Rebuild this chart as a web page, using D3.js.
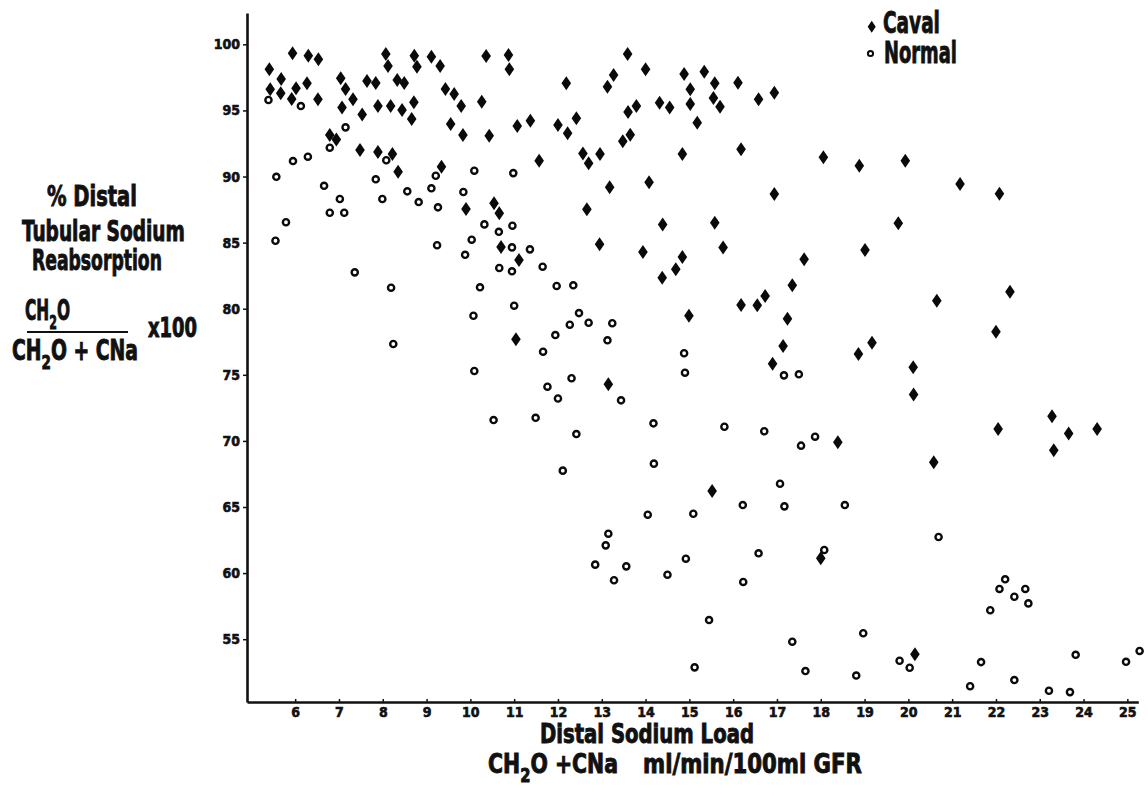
<!DOCTYPE html>
<html lang="en">
<head>
<meta charset="utf-8">
<title>Distal Tubular Sodium Reabsorption</title>
<script src="https://cdnjs.cloudflare.com/ajax/libs/d3/7.8.5/d3.min.js"></script>
<style>
  body { margin: 0; background: #fff; }
  svg text { font-family: "Liberation Sans Narrow", "DejaVu Sans Condensed", sans-serif; font-weight: bold; fill: #111; }
</style>
</head>
<body>
<script>
/* distal sodium load (ml/min/100ml GFR), % distal reabsorption */
var cavalPoints = [
  [5.41,98.11],[5.43,96.60],[5.68,97.38],[5.67,96.29],[5.94,99.32],[6.02,96.67],[5.92,95.86],[6.30,99.14],
  [6.27,97.05],[6.53,98.87],[6.52,95.84],[6.79,93.14],[6.94,92.81],[7.04,97.43],[7.15,96.62],[7.07,95.23],
  [7.32,95.84],[7.53,94.70],[7.48,92.00],[7.64,97.22],[7.84,97.07],[7.89,95.33],[8.07,99.27],[8.12,98.36],
  [8.18,95.33],[8.33,97.30],[8.49,97.07],[8.44,95.03],[7.89,91.85],[8.22,91.70],[8.35,90.36],[8.72,99.14],
  [8.78,98.31],[8.71,95.61],[8.66,94.35],[9.11,99.06],[9.31,98.36],[9.43,96.62],[9.63,96.24],[9.55,93.97],
  [9.79,95.33],[9.83,93.14],[9.34,90.74],[9.90,87.54],[10.26,95.66],[10.36,99.11],[10.43,93.09],[10.87,99.19],
  [10.89,98.11],[11.07,93.82],[11.37,94.22],[11.57,91.20],[10.54,87.97],[10.66,87.22],[10.70,84.67],[11.11,83.68],
  [11.04,77.69],[12.19,97.05],[12.00,93.90],[12.22,93.27],[12.42,94.40],[12.57,91.75],[12.70,91.00],[12.96,91.70],
  [13.18,89.18],[12.66,87.52],[12.95,84.87],[13.59,99.27],[13.27,97.68],[13.13,96.79],[14.00,98.11],[13.60,94.88],
  [13.79,95.33],[13.65,93.16],[13.48,92.66],[14.32,95.58],[14.55,95.23],[14.88,97.75],[15.02,96.60],[15.02,95.48],
  [15.34,97.93],[15.58,97.05],[15.55,95.94],[15.70,95.28],[15.18,94.07],[14.84,91.70],[16.11,97.10],[16.58,95.84],
  [16.94,96.34],[16.18,92.06],[14.08,89.56],[14.39,86.38],[15.58,86.51],[15.77,84.64],[13.94,84.29],[14.84,83.91],
  [14.69,82.98],[14.38,82.35],[16.94,88.68],[18.06,91.45],[18.88,90.82],[19.93,91.20],[19.77,86.46],[19.01,84.44],
  [17.62,83.74],[17.35,81.77],[16.18,80.28],[16.55,80.26],[16.73,80.96],[17.24,79.24],[17.14,77.18],[16.90,75.84],
  [14.99,79.47],[13.15,74.28],[15.52,66.21],[18.00,61.12],[18.39,69.89],[18.86,76.57],[19.17,77.43],[21.18,89.43],
  [22.08,88.70],[22.32,81.29],[22.00,78.26],[20.11,75.57],[20.12,73.52],[23.28,71.86],[22.05,70.90],[23.66,70.57],
  [24.31,70.90],[23.32,69.29],[20.58,68.38],[20.15,53.86],[20.65,80.61]
];
var normalPoints = [
  [5.39,95.79],[5.57,89.98],[5.55,85.14],[5.79,86.54],[5.95,91.17],[6.13,95.33],[6.29,91.50],[6.66,89.30],
  [6.79,92.18],[7.15,93.72],[7.02,88.30],[6.79,87.26],[7.12,87.26],[7.36,82.75],[7.84,89.79],[7.99,88.30],
  [8.08,91.23],[8.19,81.59],[8.24,77.33],[8.56,88.88],[8.82,88.07],[9.11,89.11],[9.21,90.06],[9.26,87.67],
  [9.24,84.80],[9.84,88.83],[9.88,84.08],[10.03,85.22],[10.09,90.44],[10.32,86.38],[10.22,81.62],[10.65,85.82],
  [10.66,83.08],[10.95,82.83],[10.96,86.28],[10.95,84.64],[10.98,90.26],[11.36,84.49],[11.65,83.18],[10.07,79.47],
  [10.09,75.29],[11.00,80.23],[11.94,78.01],[11.66,76.75],[11.76,74.10],[12.00,73.21],[11.49,71.75],[10.53,71.58],
  [11.97,81.72],[12.35,81.77],[12.48,79.67],[12.27,78.79],[12.70,78.94],[13.24,78.90],[13.13,77.61],[12.31,74.74],
  [13.44,73.07],[12.42,70.52],[14.18,71.33],[12.11,67.75],[14.19,68.28],[14.88,76.63],[14.90,75.16],[17.16,74.96],
  [17.50,75.04],[15.80,71.07],[16.71,70.73],[17.55,69.64],[17.87,70.32],[17.07,66.76],[16.22,65.15],[17.17,65.05],
  [18.55,65.15],[14.05,64.42],[15.09,64.49],[13.15,62.98],[13.09,62.10],[12.85,60.64],[13.56,60.51],[13.28,59.46],
  [14.50,59.88],[14.92,61.09],[16.58,61.50],[18.08,61.75],[16.23,59.33],[15.45,56.45],[17.35,54.81],[15.12,52.87],
  [17.65,52.59],[18.81,52.25],[20.69,62.73],[22.21,59.53],[22.08,58.80],[22.42,58.21],[22.67,58.80],[22.74,57.71],
  [21.87,57.19],[18.97,55.45],[19.80,53.37],[20.03,52.84],[21.66,53.27],[21.41,51.44],[22.42,51.91],[23.21,51.10],
  [23.69,51.00],[23.82,53.82],[24.97,53.29],[25.28,54.11]
];
var xTicks = d3.range(6, 26);
var yTicks = [55, 60, 65, 70, 75, 80, 85, 90, 95, 100];
var legendLabels = ["Caval", "Normal"];

var width = 1148, height = 791;
var diamond = "M0,-7L4.8,0L0,7L-4.8,0Z";

var svg = d3.select("body").append("svg")
  .attr("width", width)
  .attr("height", height);

var x = d3.scaleLinear().domain([4.9, 25.25]).range([247, 1138.3]);
var y = d3.scaleLinear().domain([50.25, 102.37]).range([702, 13]);

/* axes */
var gx = svg.append("g")
  .attr("transform", "translate(0," + y(50.25) + ")")
  .call(d3.axisBottom(x).tickValues(xTicks).tickSize(-3).tickSizeOuter(0).tickPadding(5));
var gy = svg.append("g")
  .attr("transform", "translate(" + x(4.9) + ",0)")
  .call(d3.axisLeft(y).tickValues(yTicks).tickSize(4).tickSizeOuter(0).tickPadding(3));

[gx, gy].forEach(function(g) {
  g.attr("font-family", null).attr("font-size", null);
  g.select(".domain").attr("stroke", "#111").attr("stroke-width", 2.6);
  g.selectAll(".tick line").attr("stroke", "#111").attr("stroke-width", 1.5);
  g.selectAll(".tick text")
    .style("font-size", "14px")
    .attr("fill", "#111")
    .attr("stroke", "#111")
    .attr("stroke-width", 0.6);
});

/* points */
svg.append("g").selectAll("path")
  .data(cavalPoints)
  .enter()
  .append("path")
  .attr("d", diamond)
  .attr("transform", function(d) { return "translate(" + x(d[0]) + "," + y(d[1]) + ")"; })
  .attr("fill", "#0a0a0a");

svg.append("g").selectAll("circle")
  .data(normalPoints)
  .enter()
  .append("circle")
  .attr("cx", function(d) { return x(d[0]); })
  .attr("cy", function(d) { return y(d[1]); })
  .attr("r", 3.1)
  .attr("fill", "none")
  .attr("stroke", "#0a0a0a")
  .attr("stroke-width", 2.4);

/* text helper: parts are [string, isSubscript]; squeezed to len px wide */
function label(px, py, size, len, parts) {
  var t = svg.append("text")
    .attr("x", 0).attr("y", 0)
    .style("font-size", size + "px")
    .attr("stroke", "#111")
    .attr("stroke-width", 0.9);
  var shifted = false;
  parts.forEach(function(p) {
    var s = t.append("tspan").text(p[0]);
    if (p[1]) { s.attr("dy", size * 0.32).style("font-size", (size * 0.72) + "px"); shifted = true; }
    else if (shifted) { s.attr("dy", -size * 0.32); shifted = false; }
  });
  var w = t.node().getComputedTextLength();
  t.attr("transform", "translate(" + px + "," + py + ") scale(" + (len / w) + ",1)");
  return t;
}

/* legend */
svg.append("path").attr("d", "M0,-6L4,0L0,6L-4,0Z")
  .attr("transform", "translate(871.7,26.7)").attr("fill", "#0a0a0a");
svg.append("circle").attr("cx", 870.5).attr("cy", 53.5).attr("r", 2.6)
  .attr("fill", "none").attr("stroke", "#0a0a0a").attr("stroke-width", 2);
label(883, 33, 31, 57, [[legendLabels[0]]]);
label(884, 63, 31, 73, [[legendLabels[1]]]);

/* x axis title */
label(540, 743, 27, 214, [["Distal Sodium Load"]]);
label(488, 773, 27, 130, [["CH"], ["2", true], ["O +CNa"]]);
label(643, 773, 27, 219, [["ml/min/100ml GFR"]]);

/* y axis title */
label(47, 206, 28, 90, [["% Distal"]]);
label(22, 241, 28, 163, [["Tubular Sodium"]]);
label(32, 270, 28, 130, [["Reabsorption"]]);
label(25, 320, 28, 45, [["CH"], ["2", true], ["O"]]);
svg.append("line")
  .attr("x1", 27).attr("x2", 128).attr("y1", 332).attr("y2", 332)
  .attr("stroke", "#111").attr("stroke-width", 2);
label(12, 360, 28, 126, [["CH"], ["2", true], ["O + CNa"]]);
label(148, 337, 27, 49, [["x100"]]);
</script>
</body>
</html>
